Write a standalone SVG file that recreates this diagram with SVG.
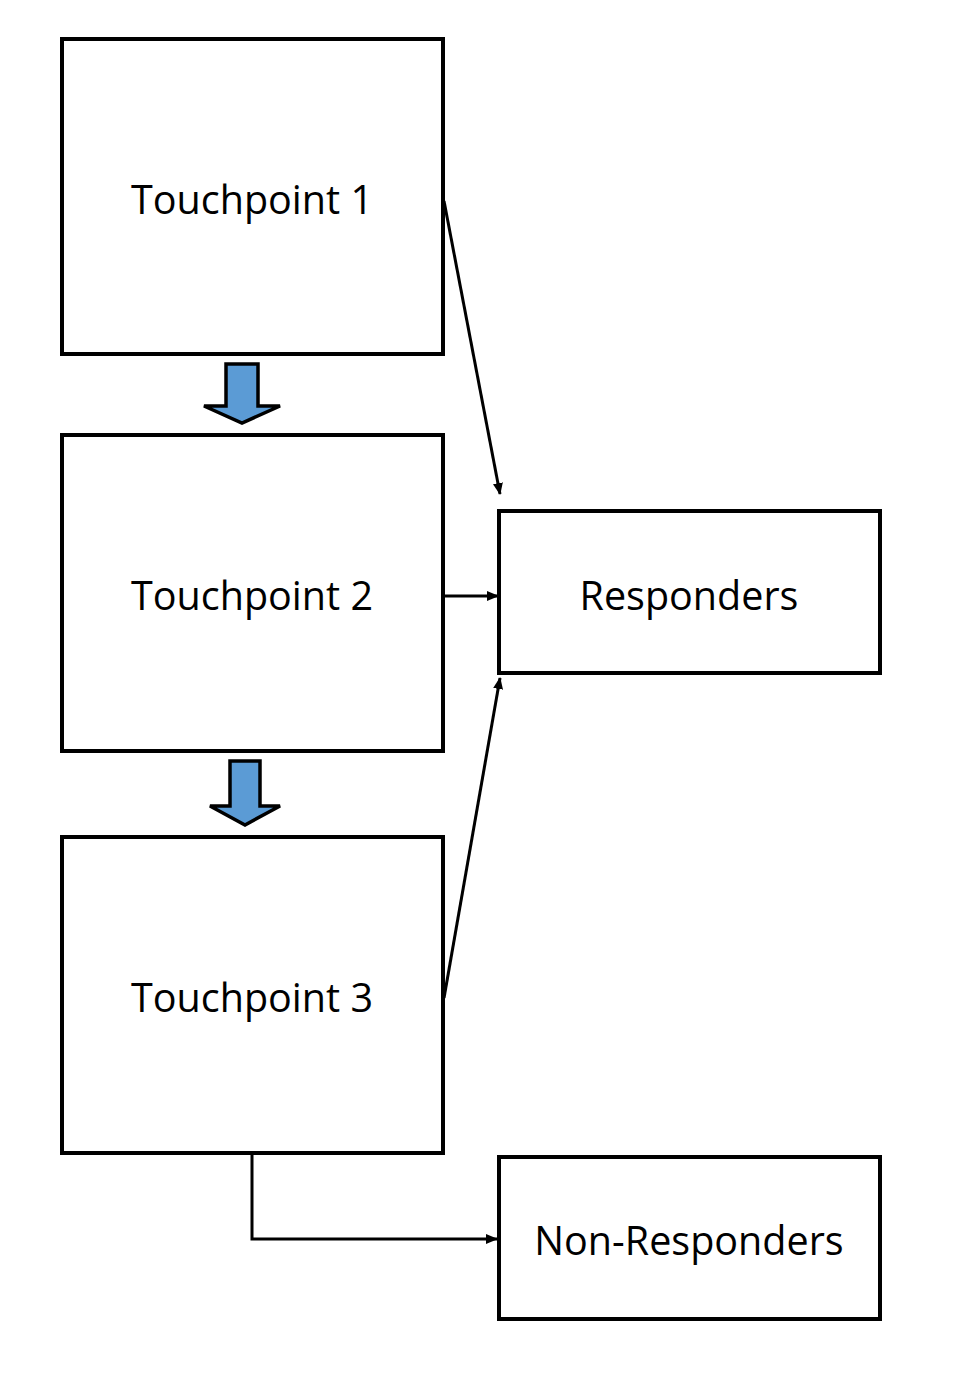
<svg xmlns="http://www.w3.org/2000/svg" width="954" height="1397" viewBox="0 0 954 1397">
<style>
.box{fill:#fff;stroke:#000;stroke-width:4}
.lbl{font-family:"Open Sans","Liberation Sans",sans-serif;font-size:39.5px;fill:#000;text-anchor:middle}
.con{fill:none;stroke:#000;stroke-width:3}
.blk{fill:#5b9bd5;stroke:#000;stroke-width:3.5;stroke-linejoin:miter}
</style>
<defs>
<marker id="ah" markerWidth="12" markerHeight="10" refX="11" refY="5" orient="auto" markerUnits="userSpaceOnUse">
<path d="M0,0 L12,5 L0,10 Z" fill="#000"/>
</marker>
</defs>
<rect width="954" height="1397" fill="#fff"/>
<g id="connectors">
<line class="con" x1="444" y1="201" x2="500" y2="494" marker-end="url(#ah)"/>
<line class="con" x1="444" y1="596" x2="498" y2="596" marker-end="url(#ah)"/>
<line class="con" x1="444" y1="998" x2="500" y2="678" marker-end="url(#ah)"/>
<polyline class="con" points="252,1155 252,1239 497,1239" marker-end="url(#ah)"/>
<path class="blk" d="M226,364 L258,364 L258,406 L280,406 L242,423 L204,406 L226,406 Z"/>
<path class="blk" d="M230,761 L260,761 L260,806 L280,806 L245,825 L210,806 L230,806 Z"/>
</g>
<g id="tp1"><rect class="box" x="62" y="39" width="381" height="315"/><text class="lbl" x="252" y="214">Touchpoint 1</text></g>
<g id="tp2"><rect class="box" x="62" y="435" width="381" height="316"/><text class="lbl" x="252" y="610">Touchpoint 2</text></g>
<g id="tp3"><rect class="box" x="62" y="837" width="381" height="316"/><text class="lbl" x="252" y="1012">Touchpoint 3</text></g>
<g id="responders"><rect class="box" x="499" y="511" width="381" height="162"/><text class="lbl" x="689" y="610">Responders</text></g>
<g id="nonresponders"><rect class="box" x="499" y="1157" width="381" height="162"/><text class="lbl" x="689" y="1255">Non-Responders</text></g>
</svg>
